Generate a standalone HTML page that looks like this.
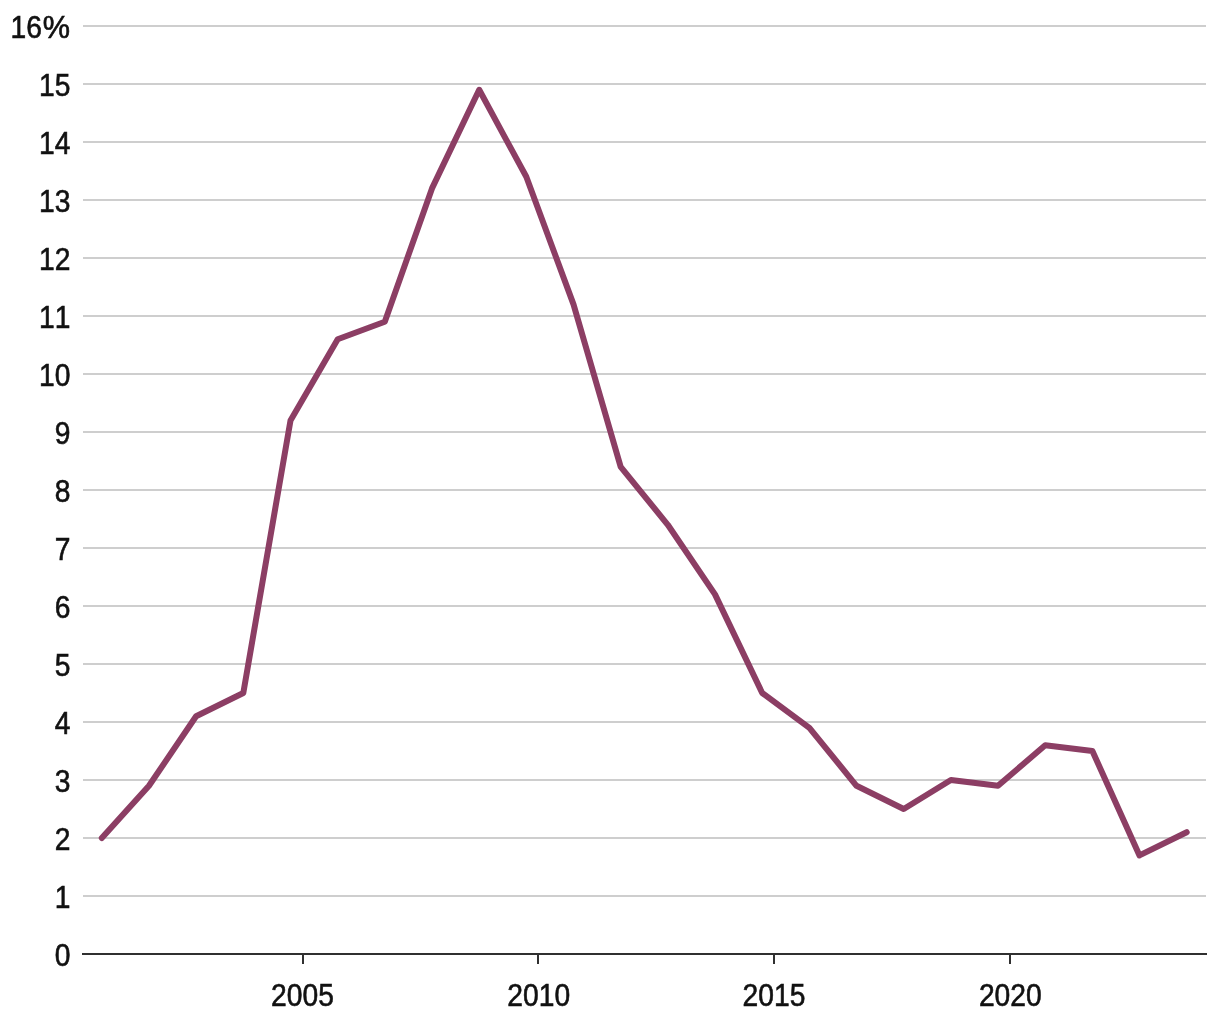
<!DOCTYPE html>
<html><head><meta charset="utf-8"><title>Chart</title>
<style>
html,body{margin:0;padding:0;background:#fff;}
body{width:1220px;height:1020px;overflow:hidden;}
svg{display:block;}
.t{filter:grayscale(1);}
text{font-family:"Liberation Sans",sans-serif;font-kerning:none;font-size:30.7px;letter-spacing:0px;fill:#111111;stroke:#111111;stroke-width:0.6px;}
</style></head><body>
<svg width="1220" height="1020" viewBox="0 0 1220 1020">
<rect x="0" y="0" width="1220" height="1020" fill="#ffffff"/>
<g stroke="#cecece" stroke-width="2" shape-rendering="crispEdges">
<line x1="83" y1="896" x2="1206" y2="896"/>
<line x1="83" y1="838" x2="1206" y2="838"/>
<line x1="83" y1="780" x2="1206" y2="780"/>
<line x1="83" y1="722" x2="1206" y2="722"/>
<line x1="83" y1="664" x2="1206" y2="664"/>
<line x1="83" y1="606" x2="1206" y2="606"/>
<line x1="83" y1="548" x2="1206" y2="548"/>
<line x1="83" y1="490" x2="1206" y2="490"/>
<line x1="83" y1="432" x2="1206" y2="432"/>
<line x1="83" y1="374" x2="1206" y2="374"/>
<line x1="83" y1="316" x2="1206" y2="316"/>
<line x1="83" y1="258" x2="1206" y2="258"/>
<line x1="83" y1="200" x2="1206" y2="200"/>
<line x1="83" y1="142" x2="1206" y2="142"/>
<line x1="83" y1="84" x2="1206" y2="84"/>
<line x1="83" y1="26" x2="1206" y2="26"/>
</g>
<g stroke="#303030" stroke-width="2" shape-rendering="crispEdges">
<line x1="82" y1="954" x2="1207" y2="954"/>
<line x1="303" y1="954" x2="303" y2="964"/>
<line x1="538" y1="954" x2="538" y2="964"/>
<line x1="774" y1="954" x2="774" y2="964"/>
<line x1="1010" y1="954" x2="1010" y2="964"/>
</g>
<g class="t" text-anchor="end">
<text transform="translate(70.5,966) scale(0.92,1)">0</text>
<text transform="translate(70.5,908) scale(0.92,1)">1</text>
<text transform="translate(70.5,850) scale(0.92,1)">2</text>
<text transform="translate(70.5,792) scale(0.92,1)">3</text>
<text transform="translate(70.5,734) scale(0.92,1)">4</text>
<text transform="translate(70.5,676) scale(0.92,1)">5</text>
<text transform="translate(70.5,618) scale(0.92,1)">6</text>
<text transform="translate(70.5,560) scale(0.92,1)">7</text>
<text transform="translate(70.5,502) scale(0.92,1)">8</text>
<text transform="translate(70.5,444) scale(0.92,1)">9</text>
<text transform="translate(70.5,386) scale(0.92,1)">10</text>
<text transform="translate(70.5,328) scale(0.92,1)">11</text>
<text transform="translate(70.5,270) scale(0.92,1)">12</text>
<text transform="translate(70.5,212) scale(0.92,1)">13</text>
<text transform="translate(70.5,154) scale(0.92,1)">14</text>
<text transform="translate(70.5,96) scale(0.92,1)">15</text>
<text transform="translate(70.0,38) scale(1.0,1)">%</text>
<text transform="translate(41.9,38) scale(0.92,1)">16</text>
</g>
<g class="t" text-anchor="middle">
<text transform="translate(302.5,1006) scale(0.92,1)">2005</text>
<text transform="translate(538.7,1006) scale(0.92,1)">2010</text>
<text transform="translate(774,1006) scale(0.92,1)">2015</text>
<text transform="translate(1010.3,1006) scale(0.92,1)">2020</text>
</g>
<polyline fill="none" stroke="#8c3e64" stroke-width="6" stroke-linejoin="round" stroke-linecap="round" points="101.8,838.0 149.0,785.8 196.1,716.2 243.3,693.0 290.5,420.4 337.7,339.2 384.8,321.8 432.0,188.4 479.2,89.8 526.3,176.8 573.5,304.4 620.7,466.8 667.8,524.8 715.0,594.4 762.2,693.0 809.4,727.8 856.5,785.8 903.7,809.0 950.9,780.0 998.0,785.8 1045.2,745.2 1092.4,751.0 1139.5,855.4 1186.7,832.2"/>
</svg>
</body></html>
